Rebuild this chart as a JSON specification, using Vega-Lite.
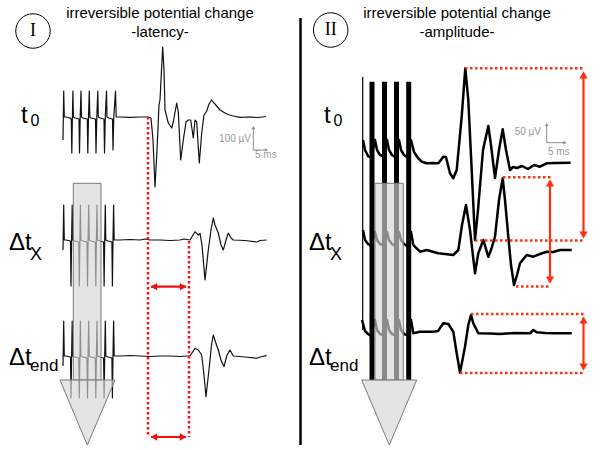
{
"$schema": "https://vega.github.io/schema/vega-lite/v6.json",
"width": 600, "height": 450, "padding": 0,
"autosize": {"type": "fit", "contains": "padding"},
"background": "white",
"config": {"view": {"stroke": null}},
"datasets": {
"trace": [
{"s":"L0","x":63,"y":140},{"s":"L0","x":63.7,"y":91},{"s":"L0","x":64.3,"y":117},{"s":"L0","x":66,"y":117},{"s":"L0","x":70,"y":118},{"s":"L0","x":71.3,"y":119},{"s":"L0","x":71.8,"y":153},{"s":"L0","x":72.4,"y":117},{"s":"L0","x":72.9,"y":91},{"s":"L0","x":73.4,"y":117},{"s":"L0","x":75,"y":118},{"s":"L0","x":79,"y":119},{"s":"L0","x":79.5,"y":153},{"s":"L0","x":80.2,"y":117},{"s":"L0","x":81,"y":91},{"s":"L0","x":81.5,"y":117},{"s":"L0","x":83,"y":118},{"s":"L0","x":87.3,"y":119},{"s":"L0","x":87.8,"y":153},{"s":"L0","x":88.5,"y":117},{"s":"L0","x":89.3,"y":91},{"s":"L0","x":89.8,"y":117},{"s":"L0","x":91,"y":118},{"s":"L0","x":95.5,"y":119},{"s":"L0","x":96,"y":153},{"s":"L0","x":96.8,"y":117},{"s":"L0","x":97.8,"y":91},{"s":"L0","x":98.3,"y":117},{"s":"L0","x":100,"y":118},{"s":"L0","x":104,"y":119},{"s":"L0","x":104.5,"y":153},{"s":"L0","x":105.3,"y":117},{"s":"L0","x":106.5,"y":91},{"s":"L0","x":107,"y":117},{"s":"L0","x":109,"y":118},{"s":"L0","x":112.5,"y":119},{"s":"L0","x":113,"y":150},{"s":"L0","x":113.8,"y":117},{"s":"L0","x":115.5,"y":91},{"s":"L0","x":116.2,"y":117},{"s":"L0","x":120,"y":117},{"s":"L0","x":130,"y":117.3},{"s":"L0","x":140,"y":117},{"s":"L0","x":148,"y":117},{"s":"L0","x":151,"y":118},{"s":"L0","x":153,"y":140},{"s":"L0","x":155,"y":187},{"s":"L0","x":157,"y":150},{"s":"L0","x":159,"y":105},{"s":"L0","x":160,"y":100},{"s":"L0","x":161,"y":80},{"s":"L0","x":162.7,"y":47},{"s":"L0","x":164,"y":70},{"s":"L0","x":165,"y":110},{"s":"L0","x":168.3,"y":123},{"s":"L0","x":171.7,"y":128},{"s":"L0","x":173.3,"y":122},{"s":"L0","x":176.7,"y":103},{"s":"L0","x":178.3,"y":112},{"s":"L0","x":180.7,"y":160},{"s":"L0","x":183.3,"y":140},{"s":"L0","x":186,"y":122},{"s":"L0","x":188.3,"y":120},{"s":"L0","x":190.7,"y":120},{"s":"L0","x":193.3,"y":138},{"s":"L0","x":195,"y":120},{"s":"L0","x":196.7,"y":122},{"s":"L0","x":199.3,"y":163},{"s":"L0","x":201.7,"y":133},{"s":"L0","x":204,"y":115},{"s":"L0","x":206.7,"y":111},{"s":"L0","x":209,"y":104},{"s":"L0","x":211.7,"y":100},{"s":"L0","x":214,"y":103},{"s":"L0","x":216.7,"y":106},{"s":"L0","x":220,"y":110},{"s":"L0","x":223.3,"y":112},{"s":"L0","x":228,"y":114.5},{"s":"L0","x":233.3,"y":116},{"s":"L0","x":240,"y":117.3},{"s":"L0","x":250,"y":117},{"s":"L0","x":258,"y":117.5},{"s":"L0","x":266,"y":116.5},
{"s":"L1","x":63,"y":250},{"s":"L1","x":63.7,"y":205},{"s":"L1","x":64.3,"y":240},{"s":"L1","x":66,"y":240},{"s":"L1","x":70.5,"y":241},{"s":"L1","x":71,"y":286},{"s":"L1","x":71.6,"y":240},{"s":"L1","x":72.2,"y":205},{"s":"L1","x":72.7,"y":240},{"s":"L1","x":75,"y":241},{"s":"L1","x":78.8,"y":242},{"s":"L1","x":79.3,"y":286},{"s":"L1","x":79.9,"y":240},{"s":"L1","x":80.4,"y":205},{"s":"L1","x":80.9,"y":240},{"s":"L1","x":83,"y":241},{"s":"L1","x":87,"y":242},{"s":"L1","x":87.5,"y":286},{"s":"L1","x":88.1,"y":240},{"s":"L1","x":88.7,"y":205},{"s":"L1","x":89.2,"y":240},{"s":"L1","x":91,"y":241},{"s":"L1","x":95.3,"y":242},{"s":"L1","x":95.8,"y":286},{"s":"L1","x":96.4,"y":240},{"s":"L1","x":97,"y":205},{"s":"L1","x":97.5,"y":240},{"s":"L1","x":100,"y":241},{"s":"L1","x":103.6,"y":242},{"s":"L1","x":104.1,"y":286},{"s":"L1","x":104.7,"y":240},{"s":"L1","x":105.3,"y":205},{"s":"L1","x":105.8,"y":240},{"s":"L1","x":108,"y":241},{"s":"L1","x":111.9,"y":242},{"s":"L1","x":112.4,"y":286},{"s":"L1","x":113,"y":240},{"s":"L1","x":113.6,"y":205},{"s":"L1","x":114.2,"y":240},{"s":"L1","x":120,"y":240},{"s":"L1","x":130,"y":239.5},{"s":"L1","x":140,"y":240},{"s":"L1","x":145,"y":239},{"s":"L1","x":150,"y":240},{"s":"L1","x":160,"y":240},{"s":"L1","x":170,"y":240.5},{"s":"L1","x":180,"y":240},{"s":"L1","x":184,"y":239},{"s":"L1","x":190,"y":240},{"s":"L1","x":195,"y":231.7},{"s":"L1","x":198.3,"y":235},{"s":"L1","x":200,"y":233.3},{"s":"L1","x":202,"y":245},{"s":"L1","x":205,"y":280},{"s":"L1","x":208.3,"y":250},{"s":"L1","x":211,"y":230},{"s":"L1","x":213.3,"y":218},{"s":"L1","x":215,"y":225},{"s":"L1","x":218.3,"y":233},{"s":"L1","x":221,"y":245},{"s":"L1","x":223.3,"y":250},{"s":"L1","x":226,"y":240},{"s":"L1","x":228.3,"y":233},{"s":"L1","x":231,"y":238},{"s":"L1","x":233.3,"y":240},{"s":"L1","x":245,"y":240.5},{"s":"L1","x":256.7,"y":242},{"s":"L1","x":260,"y":240.5},{"s":"L1","x":266.7,"y":240},
{"s":"L2","x":63,"y":366},{"s":"L2","x":63.7,"y":321},{"s":"L2","x":64.3,"y":356},{"s":"L2","x":66,"y":356},{"s":"L2","x":70.5,"y":357},{"s":"L2","x":71,"y":398},{"s":"L2","x":71.6,"y":356},{"s":"L2","x":72.2,"y":321},{"s":"L2","x":72.7,"y":356},{"s":"L2","x":75,"y":357},{"s":"L2","x":78.8,"y":358},{"s":"L2","x":79.3,"y":398},{"s":"L2","x":79.9,"y":356},{"s":"L2","x":80.4,"y":321},{"s":"L2","x":80.9,"y":356},{"s":"L2","x":83,"y":357},{"s":"L2","x":87,"y":358},{"s":"L2","x":87.5,"y":398},{"s":"L2","x":88.1,"y":356},{"s":"L2","x":88.7,"y":321},{"s":"L2","x":89.2,"y":356},{"s":"L2","x":91,"y":357},{"s":"L2","x":95.3,"y":358},{"s":"L2","x":95.8,"y":398},{"s":"L2","x":96.4,"y":356},{"s":"L2","x":97,"y":321},{"s":"L2","x":97.5,"y":356},{"s":"L2","x":100,"y":357},{"s":"L2","x":103.6,"y":358},{"s":"L2","x":104.1,"y":398},{"s":"L2","x":104.7,"y":356},{"s":"L2","x":105.3,"y":321},{"s":"L2","x":105.8,"y":356},{"s":"L2","x":108,"y":357},{"s":"L2","x":111.9,"y":358},{"s":"L2","x":112.4,"y":398},{"s":"L2","x":113,"y":356},{"s":"L2","x":113.6,"y":321},{"s":"L2","x":114.2,"y":356},{"s":"L2","x":120,"y":356},{"s":"L2","x":130,"y":355.5},{"s":"L2","x":140,"y":356},{"s":"L2","x":150,"y":356.5},{"s":"L2","x":160,"y":356},{"s":"L2","x":170,"y":356},{"s":"L2","x":180,"y":356.5},{"s":"L2","x":186,"y":356},{"s":"L2","x":190,"y":356},{"s":"L2","x":195,"y":348.3},{"s":"L2","x":198.3,"y":350},{"s":"L2","x":201.7,"y":355},{"s":"L2","x":204,"y":375},{"s":"L2","x":206,"y":396.7},{"s":"L2","x":209.3,"y":366.7},{"s":"L2","x":211.5,"y":345},{"s":"L2","x":213.3,"y":335},{"s":"L2","x":215.5,"y":342},{"s":"L2","x":218.3,"y":350},{"s":"L2","x":221,"y":360},{"s":"L2","x":224,"y":366.7},{"s":"L2","x":227,"y":355},{"s":"L2","x":230,"y":350},{"s":"L2","x":233.3,"y":356},{"s":"L2","x":245,"y":357},{"s":"L2","x":256.7,"y":358.3},{"s":"L2","x":260,"y":357},{"s":"L2","x":266.7,"y":355.7},
{"s":"R0","x":363,"y":140},{"s":"R0","x":365,"y":150},{"s":"R0","x":368,"y":156},{"s":"R0","x":371,"y":158},{"s":"R0","x":375,"y":140},{"s":"R0","x":377,"y":150},{"s":"R0","x":380,"y":155},{"s":"R0","x":383,"y":156},{"s":"R0","x":387,"y":140},{"s":"R0","x":389,"y":150},{"s":"R0","x":392,"y":155},{"s":"R0","x":395,"y":157},{"s":"R0","x":399,"y":140},{"s":"R0","x":401,"y":150},{"s":"R0","x":404,"y":155},{"s":"R0","x":407,"y":157},{"s":"R0","x":411,"y":140},{"s":"R0","x":414,"y":152},{"s":"R0","x":418,"y":158},{"s":"R0","x":421.7,"y":161.7},{"s":"R0","x":426.7,"y":163.3},{"s":"R0","x":433,"y":163},{"s":"R0","x":438.3,"y":163.3},{"s":"R0","x":443.3,"y":156.7},{"s":"R0","x":446,"y":157.3},{"s":"R0","x":450,"y":173.3},{"s":"R0","x":453.3,"y":178.3},{"s":"R0","x":456.7,"y":170},{"s":"R0","x":461.7,"y":116.7},{"s":"R0","x":465.3,"y":68.3},{"s":"R0","x":468.3,"y":100},{"s":"R0","x":471.7,"y":170},{"s":"R0","x":475,"y":240},{"s":"R0","x":478,"y":210},{"s":"R0","x":483,"y":150},{"s":"R0","x":488.3,"y":126},{"s":"R0","x":491,"y":145},{"s":"R0","x":495,"y":178},{"s":"R0","x":499,"y":150},{"s":"R0","x":502.7,"y":129.3},{"s":"R0","x":506,"y":150},{"s":"R0","x":510,"y":170},{"s":"R0","x":513,"y":167},{"s":"R0","x":516.7,"y":168},{"s":"R0","x":522,"y":166},{"s":"R0","x":528,"y":169},{"s":"R0","x":534,"y":165},{"s":"R0","x":540,"y":166.7},{"s":"R0","x":546.7,"y":163.3},{"s":"R0","x":555,"y":163},{"s":"R0","x":570.7,"y":162.7},
{"s":"R1","x":363,"y":230},{"s":"R1","x":365,"y":240},{"s":"R1","x":368,"y":244},{"s":"R1","x":371,"y":246},{"s":"R1","x":375,"y":232},{"s":"R1","x":377,"y":240},{"s":"R1","x":380,"y":244},{"s":"R1","x":383,"y":245},{"s":"R1","x":387,"y":232},{"s":"R1","x":389,"y":240},{"s":"R1","x":392,"y":244},{"s":"R1","x":395,"y":246},{"s":"R1","x":399,"y":232},{"s":"R1","x":401,"y":240},{"s":"R1","x":404,"y":244},{"s":"R1","x":407,"y":246},{"s":"R1","x":411,"y":232},{"s":"R1","x":413.3,"y":245},{"s":"R1","x":416.7,"y":248.3},{"s":"R1","x":420,"y":251.7},{"s":"R1","x":426.7,"y":250},{"s":"R1","x":438.3,"y":253.3},{"s":"R1","x":445,"y":254},{"s":"R1","x":453.3,"y":255},{"s":"R1","x":458.3,"y":250},{"s":"R1","x":462,"y":225},{"s":"R1","x":466,"y":205},{"s":"R1","x":470,"y":230},{"s":"R1","x":475,"y":273.3},{"s":"R1","x":478.3,"y":253.3},{"s":"R1","x":483.3,"y":240},{"s":"R1","x":488.3,"y":256.7},{"s":"R1","x":491,"y":250},{"s":"R1","x":495,"y":236.7},{"s":"R1","x":499,"y":200},{"s":"R1","x":502.7,"y":178.3},{"s":"R1","x":505,"y":200},{"s":"R1","x":508.3,"y":236.7},{"s":"R1","x":511,"y":265},{"s":"R1","x":514,"y":285},{"s":"R1","x":517,"y":275},{"s":"R1","x":520,"y":263.3},{"s":"R1","x":526.7,"y":255},{"s":"R1","x":533.3,"y":256.7},{"s":"R1","x":540,"y":254},{"s":"R1","x":546.7,"y":251.7},{"s":"R1","x":553,"y":252},{"s":"R1","x":560,"y":250},{"s":"R1","x":571.7,"y":250},
{"s":"R2","x":362,"y":320},{"s":"R2","x":365,"y":331},{"s":"R2","x":368,"y":334},{"s":"R2","x":371,"y":336},{"s":"R2","x":375,"y":320},{"s":"R2","x":377,"y":330},{"s":"R2","x":380,"y":334},{"s":"R2","x":383,"y":335},{"s":"R2","x":387,"y":320},{"s":"R2","x":389,"y":330},{"s":"R2","x":392,"y":334},{"s":"R2","x":395,"y":335},{"s":"R2","x":399,"y":320},{"s":"R2","x":401,"y":330},{"s":"R2","x":404,"y":334},{"s":"R2","x":407,"y":335},{"s":"R2","x":411,"y":320},{"s":"R2","x":413.3,"y":333.3},{"s":"R2","x":420,"y":331.7},{"s":"R2","x":433.3,"y":331.7},{"s":"R2","x":438,"y":331},{"s":"R2","x":443.3,"y":323.3},{"s":"R2","x":448.3,"y":324},{"s":"R2","x":453.3,"y":331.7},{"s":"R2","x":456.7,"y":353.3},{"s":"R2","x":460,"y":372.7},{"s":"R2","x":465,"y":346.7},{"s":"R2","x":468.3,"y":325},{"s":"R2","x":471,"y":315},{"s":"R2","x":473.3,"y":323.3},{"s":"R2","x":478.3,"y":333.3},{"s":"R2","x":490,"y":333.5},{"s":"R2","x":500,"y":334},{"s":"R2","x":515,"y":333},{"s":"R2","x":530,"y":333.3},{"s":"R2","x":533.3,"y":330},{"s":"R2","x":536.7,"y":332.3},{"s":"R2","x":545,"y":333},{"s":"R2","x":553.3,"y":333.3},{"s":"R2","x":571.7,"y":333.3}
],
"bars": [
{"x":372,"y":81.7,"y2":380},{"x":384.5,"y":81.7,"y2":380},{"x":396.5,"y":81.7,"y2":380},{"x":408.7,"y":81.7,"y2":380}
],
"shafts": [
{"x":73.3,"x2":101,"y":183.3,"y2":380},{"x":375,"x2":403.3,"y":183.3,"y2":380}
],
"heads": [
{"a":"L","x":60,"y":380,"y2":380},{"a":"L","x":87.3,"y":380,"y2":445},{"a":"L","x":115,"y":380,"y2":380},
{"a":"R","x":361.7,"y":380,"y2":380},{"a":"R","x":389.3,"y":380,"y2":445},{"a":"R","x":416.7,"y":380,"y2":380}
],
"red": [
{"p":"L","k":"dot","x":148,"y":117,"x2":148,"y2":437},
{"p":"L","k":"dot","x":189,"y":241,"x2":189,"y2":437},
{"p":"L","k":"line","x":151,"y":286.7,"x2":186,"y2":286.7},
{"p":"L","k":"line","x":151,"y":437,"x2":186,"y2":437},
{"p":"R","k":"dot","x":465,"y":68.3,"x2":584,"y2":68.3},
{"p":"R","k":"dot","x":475,"y":240.5,"x2":584,"y2":240.5},
{"p":"R","k":"dot","x":503,"y":177.3,"x2":551,"y2":177.3},
{"p":"R","k":"dot","x":516,"y":286.5,"x2":551,"y2":286.5},
{"p":"R","k":"dot","x":471,"y":314,"x2":584,"y2":314},
{"p":"R","k":"dot","x":460,"y":373,"x2":584,"y2":373},
{"p":"R","k":"line","x":583.5,"y":73,"x2":583.5,"y2":236},
{"p":"R","k":"line","x":550,"y":181,"x2":550,"y2":282},
{"p":"R","k":"line","x":583.5,"y":318,"x2":583.5,"y2":369}
],
"heads2": [
{"p":"L","d":"left","x":154,"y":286.7},{"p":"L","d":"right","x":183,"y":286.7},
{"p":"L","d":"left","x":154,"y":437},{"p":"L","d":"right","x":183,"y":437},
{"p":"R","d":"up","x":583.5,"y":75},{"p":"R","d":"down","x":583.5,"y":235},
{"p":"R","d":"up","x":550,"y":183},{"p":"R","d":"down","x":550,"y":280},
{"p":"R","d":"up","x":583.5,"y":320},{"p":"R","d":"down","x":583.5,"y":367}
],
"scalebar": [
{"x":253.3,"y":150,"x2":253.3,"y2":128},{"x":253.3,"y":150,"x2":266,"y2":150},
{"x":546.7,"y":142.7,"x2":546.7,"y2":125},{"x":546.7,"y":142.7,"x2":564.5,"y2":142.7}
],
"scaleheads": [
{"d":"up","x":253.3,"y":127.5},{"d":"right","x":266.5,"y":150},
{"d":"up","x":546.7,"y":124.5},{"d":"right","x":565,"y":142.7}
],
"misc": [
{"k":"divider","x":300.5,"y":18,"y2":445},
{"k":"onset","x":362.7,"y":77,"y2":330}
],
"circles": [{"x":33,"y":31},{"x":330.7,"y":30}],
"texts": [
{"k":"title","t":"irreversible potential change","x":160,"y":13},
{"k":"title","t":"-latency-","x":160,"y":32},
{"k":"title","t":"irreversible potential change","x":457,"y":13},
{"k":"title","t":"-amplitude-","x":457,"y":32},
{"k":"roman","t":"I","x":33,"y":31},
{"k":"roman","t":"II","x":330.7,"y":30},
{"k":"big","t":"t","x":21,"y":123},
{"k":"big","t":"Δt","x":9,"y":250},
{"k":"big","t":"Δt","x":9,"y":365},
{"k":"big","t":"t","x":324,"y":123},
{"k":"big","t":"Δt","x":309,"y":250},
{"k":"big","t":"Δt","x":309,"y":365},
{"k":"sub0","t":"0","x":30.5,"y":126},
{"k":"sub0","t":"0","x":333.5,"y":126},
{"k":"subx","t":"X","x":30,"y":260},
{"k":"subx","t":"X","x":330,"y":260},
{"k":"sube","t":"end","x":30,"y":371},
{"k":"sube","t":"end","x":330,"y":371},
{"k":"sbr","t":"100 µV","x":251,"y":139},
{"k":"sbl","t":"5 ms","x":255,"y":154.5},
{"k":"sbr","t":"50 µV","x":541,"y":131.7},
{"k":"sbl","t":"5 ms","x":548,"y":152.3}
]
},
"encoding": {
"x": {"field":"x","type":"quantitative","scale":{"domain":[0,600],"nice":false,"zero":false},"axis":null},
"y": {"field":"y","type":"quantitative","scale":{"domain":[0,450],"nice":false,"zero":false,"reverse":true},"axis":null}
},
"layer": [
{"data":{"name":"trace"},"transform":[{"filter":"indexof(datum.s,'L')==0"}],
 "mark":{"type":"line","color":"#111111","strokeWidth":1.2,"strokeJoin":"round"},
 "encoding":{"detail":{"field":"s"}}},
{"data":{"name":"trace"},"transform":[{"filter":"indexof(datum.s,'R')==0"}],
 "mark":{"type":"line","color":"#000000","strokeWidth":2.5,"strokeJoin":"round"},
 "encoding":{"detail":{"field":"s"}}},
{"data":{"name":"bars"},"mark":{"type":"rule","color":"#000000","strokeWidth":5},
 "encoding":{"y2":{"field":"y2"}}},
{"data":{"name":"misc"},"transform":[{"filter":"datum.k=='onset'"}],"mark":{"type":"rule","color":"#000000","strokeWidth":1.2},
 "encoding":{"y2":{"field":"y2"}}},
{"data":{"name":"shafts"},"mark":{"type":"rect","fill":"#d6d6d6","fillOpacity":0.65,"stroke":"#7a7a7a","strokeWidth":1},
 "encoding":{"x2":{"field":"x2"},"y2":{"field":"y2"}}},
{"data":{"name":"heads"},"mark":{"type":"area","fill":"#d6d6d6","fillOpacity":0.65,"stroke":"#7a7a7a","strokeWidth":1,"orient":"vertical"},
 "encoding":{"y":{"field":"y","type":"quantitative","stack":null},"y2":{"field":"y2"},"detail":{"field":"a"}}},
{"data":{"name":"red"},"transform":[{"filter":"datum.k=='dot' && datum.p=='L'"}],"mark":{"type":"rule","color":"#ff1010","strokeWidth":2.5,"strokeDash":[2.5,2.5]},
 "encoding":{"x2":{"field":"x2"},"y2":{"field":"y2"}}},
{"data":{"name":"red"},"transform":[{"filter":"datum.k=='dot' && datum.p=='R'"}],"mark":{"type":"rule","color":"#ff3010","strokeWidth":2.5,"strokeDash":[2.5,2.5]},
 "encoding":{"x2":{"field":"x2"},"y2":{"field":"y2"}}},
{"data":{"name":"red"},"transform":[{"filter":"datum.k=='line' && datum.p=='L'"}],"mark":{"type":"rule","color":"#ee1111","strokeWidth":2.2},
 "encoding":{"x2":{"field":"x2"},"y2":{"field":"y2"}}},
{"data":{"name":"red"},"transform":[{"filter":"datum.k=='line' && datum.p=='R'"}],"mark":{"type":"rule","color":"#ff3010","strokeWidth":2.2},
 "encoding":{"x2":{"field":"x2"},"y2":{"field":"y2"}}},
{"data":{"name":"heads2"},"transform":[{"filter":"datum.p=='L'"}],"mark":{"type":"point","filled":true,"color":"#ee1111","size":55,"opacity":1},
 "encoding":{"shape":{"field":"d","type":"nominal","scale":{"domain":["up","down","left","right"],"range":["triangle-up","triangle-down","triangle-left","triangle-right"]},"legend":null}}},
{"data":{"name":"heads2"},"transform":[{"filter":"datum.p=='R'"}],"mark":{"type":"point","filled":true,"color":"#ff3010","size":70,"opacity":1},
 "encoding":{"shape":{"field":"d","type":"nominal","scale":{"domain":["up","down","left","right"],"range":["triangle-up","triangle-down","triangle-left","triangle-right"]},"legend":null}}},
{"data":{"name":"scalebar"},"mark":{"type":"rule","color":"#8a8a8a","strokeWidth":1},
 "encoding":{"x2":{"field":"x2"},"y2":{"field":"y2"}}},
{"data":{"name":"scaleheads"},"mark":{"type":"point","filled":true,"color":"#8a8a8a","size":14,"opacity":1},
 "encoding":{"shape":{"field":"d","type":"nominal","scale":{"domain":["up","down","left","right"],"range":["triangle-up","triangle-down","triangle-left","triangle-right"]},"legend":null}}},
{"data":{"name":"misc"},"transform":[{"filter":"datum.k=='divider'"}],"mark":{"type":"rule","color":"#000000","strokeWidth":2.5},
 "encoding":{"y2":{"field":"y2"}}},
{"data":{"name":"circles"},"mark":{"type":"point","shape":"circle","filled":false,"color":"#000000","strokeWidth":1,"size":1190,"opacity":1}},
{"data":{"name":"texts"},"transform":[{"filter":"datum.k=='title'"}],"mark":{"type":"text","font":"Liberation Sans","fontSize":15,"color":"#000000","align":"center","baseline":"middle"},"encoding":{"text":{"field":"t"}}},
{"data":{"name":"texts"},"transform":[{"filter":"datum.k=='roman'"}],"mark":{"type":"text","font":"Liberation Serif","fontSize":18,"color":"#000000","align":"center","baseline":"middle"},"encoding":{"text":{"field":"t"}}},
{"data":{"name":"texts"},"transform":[{"filter":"datum.k=='big'"}],"mark":{"type":"text","font":"Liberation Sans","fontSize":24,"color":"#000000","align":"left","baseline":"alphabetic"},"encoding":{"text":{"field":"t"}}},
{"data":{"name":"texts"},"transform":[{"filter":"datum.k=='sub0'"}],"mark":{"type":"text","font":"Liberation Sans","fontSize":16,"color":"#000000","align":"left","baseline":"alphabetic"},"encoding":{"text":{"field":"t"}}},
{"data":{"name":"texts"},"transform":[{"filter":"datum.k=='subx'"}],"mark":{"type":"text","font":"Liberation Sans","fontSize":18,"color":"#000000","align":"left","baseline":"alphabetic"},"encoding":{"text":{"field":"t"}}},
{"data":{"name":"texts"},"transform":[{"filter":"datum.k=='sube'"}],"mark":{"type":"text","font":"Liberation Sans","fontSize":17,"color":"#000000","align":"left","baseline":"alphabetic"},"encoding":{"text":{"field":"t"}}},
{"data":{"name":"texts"},"transform":[{"filter":"datum.k=='sbr'"}],"mark":{"type":"text","font":"Liberation Sans","fontSize":10,"color":"#999999","align":"right","baseline":"middle"},"encoding":{"text":{"field":"t"}}},
{"data":{"name":"texts"},"transform":[{"filter":"datum.k=='sbl'"}],"mark":{"type":"text","font":"Liberation Sans","fontSize":10,"color":"#999999","align":"left","baseline":"middle"},"encoding":{"text":{"field":"t"}}}
]
}
